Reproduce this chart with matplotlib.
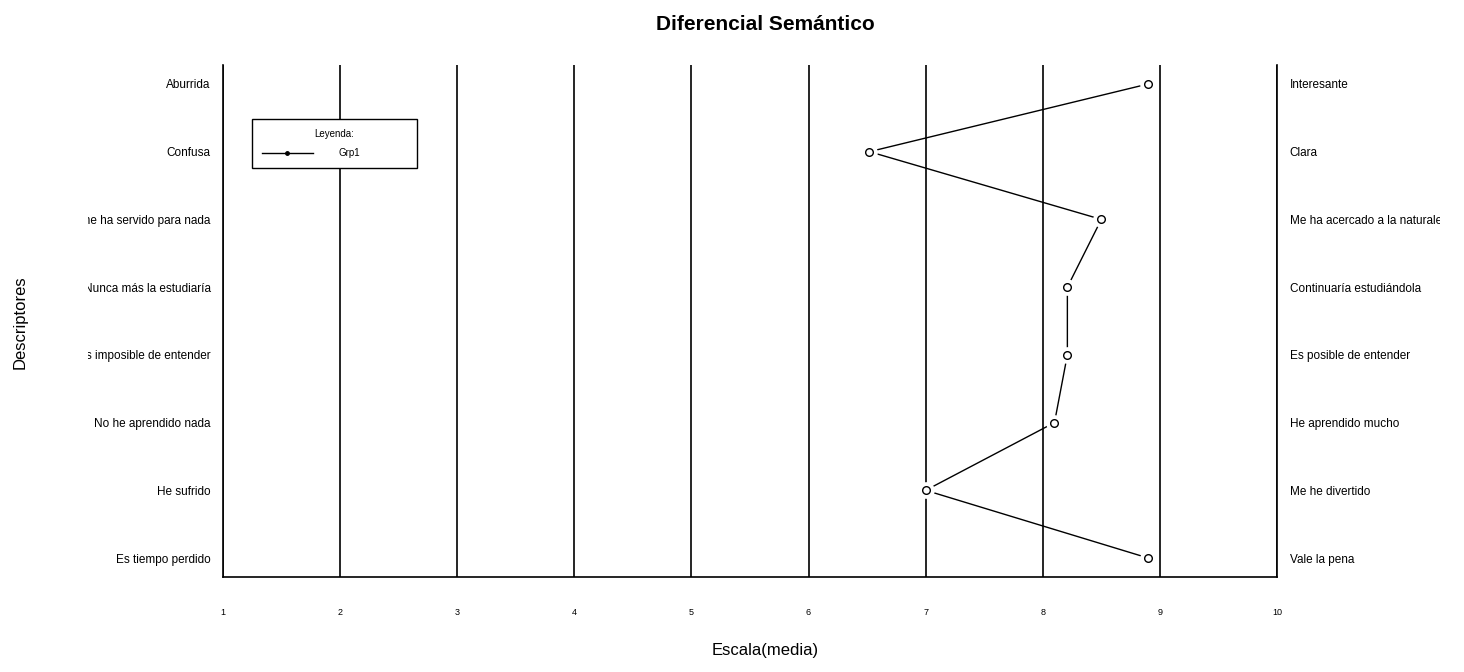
import matplotlib
matplotlib.use("Agg")
import matplotlib.pyplot as plt
from matplotlib.transforms import Bbox

plt.rcParams['font.family'] = ['Liberation Sans', 'DejaVu Sans']

# Data
left_labels = ["Aburrida", "Confusa", "No me ha servido para nada", "Nunca más la estudiaría",
               "Es imposible de entender", "No he aprendido nada", "He sufrido", "Es tiempo perdido"]
right_labels = ["Interesante", "Clara", "Me ha acercado a la naturaleza", "Continuaría estudiándola",
                "Es posible de entender", "He aprendido mucho", "Me he divertido", "Vale la pena"]
grp1_means = [8.9, 6.52, 8.5, 8.21, 8.21, 8.1, 7.0, 8.9]
scale_ticks = [1, 2, 3, 4, 5, 6, 7, 8, 9, 10]

positions = list(range(len(left_labels)))

fig = plt.figure(figsize=(14.64, 6.72), dpi=100)
ax = fig.add_axes([223 / 1464, (672 - 577) / 672, 1054 / 1464, 512 / 672])

ylim = (len(left_labels) - 1 + 0.28, -0.28)

# vertical grid lines at each scale value
ax.vlines(scale_ticks, ylim[1], ylim[0], color="black", linewidth=1.2, zorder=1)

# line with gaps around points (R type="b" look)
ax.plot(grp1_means, positions, color="black", linewidth=1.0, zorder=2)
ax.plot(grp1_means, positions, linestyle="none", marker="o", markersize=12,
        markerfacecolor="white", markeredgecolor="none", zorder=3)
ax.plot(grp1_means, positions, linestyle="none", marker="o", markersize=5.5,
        markerfacecolor="white", markeredgecolor="black", markeredgewidth=1.0, zorder=4)

ax.set_xlim(1, 10)
ax.set_ylim(*ylim)
ax.set_xticks(scale_ticks)
ax.set_xticklabels([str(t) for t in scale_ticks], fontsize=6.5)
ax.set_yticks(positions)
ax.set_yticklabels(left_labels, fontsize=8.5)
ax.tick_params(axis="x", length=0, pad=22)
ax.tick_params(axis="y", length=0, pad=9)
ax.spines["top"].set_visible(False)
for s in ["left", "right", "bottom"]:
    ax.spines[s].set_linewidth(1.2)

ax2 = ax.twinx()
ax2.set_ylim(*ylim)
ax2.set_yticks(positions)
ax2.set_yticklabels(right_labels, fontsize=8.5)
ax2.tick_params(axis="y", length=0, pad=9)
for s in ax2.spines.values():
    s.set_visible(False)

# clip long descriptor labels like the original device did
clip = Bbox.from_extents(88, 0, 1440, 672)
for lab in ax.get_yticklabels() + ax2.get_yticklabels():
    lab.set_clip_box(clip)
    lab.set_clip_on(True)

# legend
handle, = ax.plot([], [], color="black", linewidth=1.0, marker="o", markersize=2.5,
                  label="Grp1")
leg = ax.legend(handles=[handle], title="Leyenda:", fontsize=7, title_fontsize=7,
                loc="upper left", bbox_to_anchor=(29 / 1054, 0, 165 / 1054, 1 - 54 / 512),
                mode="expand", borderaxespad=0, handlelength=5.3, handletextpad=2.6,
                borderpad=1.0, labelspacing=1.0,
                fancybox=False, framealpha=1, edgecolor="black")
leg.get_frame().set_linewidth(1.0)

fig.text(765 / 1464, 1 - 24 / 672, "Diferencial Semántico", ha="center", va="center",
         fontsize=15, fontweight="bold")
fig.text(765 / 1464, 1 - 651 / 672, "Escala(media)", ha="center", va="center", fontsize=12)
fig.text(20 / 1464, 1 - 322 / 672, "Descriptores", ha="center", va="center", fontsize=12,
         rotation=90)

fig.savefig("out.png", dpi=100)
